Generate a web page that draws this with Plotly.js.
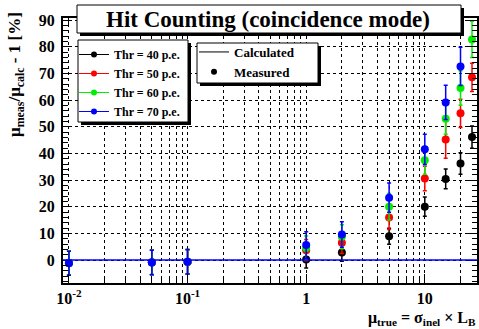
<!DOCTYPE html>
<html><head><meta charset="utf-8">
<script src="https://cdn.plot.ly/plotly-3.0.1.min.js"></script>
<style>html,body{margin:0;padding:0;background:#fff}#c{width:479px;height:329px}</style>
</head><body><div id="c"></div>
<script>
const muTrue = [0.01, 0.05, 0.1, 1, 2, 5, 10, 15, 20, 25];
const thr40 = [-1.0, -0.8, -0.6, 0.2, 2.8, 8.9, 20.0, 30.4, 36.2, 46.1];
const err40 = [4.5, 4.6, 4.6, 3.2, 3.2, 3.0, 3.6, 3.7, 4.0, 4.2];
const thr50 = [-1.1, -0.9, -0.7, 3.7, 6.5, 16.0, 30.6, 45.2, 55.0, 68.5];
const err50 = [4.5, 4.6, 4.6, 4.0, 4.0, 4.5, 4.6, 7.0, 5.3, 5.3];
const thr60 = [-1.1, -0.9, -0.6, 4.5, 8.7, 20.0, 37.4, 53.0, 64.5, 82.7];
const err60 = [4.5, 4.6, 4.6, 4.5, 4.5, 5.0, 5.2, 5.8, 6.5, 6.8];
const thr70 = [-1.2, -0.9, -0.6, 5.6, 9.6, 23.4, 41.5, 59.1, 72.6, null];
const err70 = [4.5, 4.6, 4.6, 5.0, 4.8, 5.5, 5.7, 6.4, 7.2, null];
const seriesNames = ['Thr = 40 p.e.', 'Thr = 50 p.e.', 'Thr = 60 p.e.', 'Thr = 70 p.e.'];
const seriesColors = ['#000000', '#ff0000', '#00ee00', '#0000ff'];
const xTickVals = [0.01, 0.1, 1, 10];
const xTickText = ['<b>10<sup>-2</sup></b>', '<b>10<sup>-1</sup></b>', '<b>1</b>', '<b>10</b>'];
const xMinorVals = [0.02,0.03,0.04,0.05,0.06,0.07,0.08,0.09,0.2,0.3,0.4,0.5,0.6,0.7,0.8,0.9,2,3,4,5,6,7,8,9,20];
const calcLevel = 0;

const F = 'Liberation Serif';
const ys = [thr40, thr50, thr60, thr70];
const es = [err40, err50, err60, err70];
const traces = [];
ys.forEach((y, i) => traces.push({
  type: 'scatter', mode: 'markers', x: muTrue, y: y, name: seriesNames[i], showlegend: false,
  marker: {color: seriesColors[i], size: 8},
  error_y: {type: 'data', array: es[i], color: seriesColors[i], thickness: 1.5, width: 2}
}));
seriesNames.forEach((n, i) => traces.push({
  type: 'scatter', mode: 'lines+markers', x: [null], y: [null], name: '<b>' + n + '</b>',
  line: {color: seriesColors[i], width: 1}, marker: {color: seriesColors[i], size: 6},
  legend: 'legend', showlegend: true
}));
traces.push({type: 'scatter', mode: 'lines', x: [null], y: [null], name: '<b>Calculated</b>',
  line: {color: '#000', width: 1}, legend: 'legend2', showlegend: true});
traces.push({type: 'scatter', mode: 'markers', x: [null], y: [null], name: '<b>Measured</b>',
  marker: {color: '#000', size: 6}, legend: 'legend2', showlegend: true});

// plot area px: x 63..477, y 18..283
const px = v => (v - 63) / 414;
const py = v => (283 - v) / 265;
function box(x0, y0, x1, y1) {
  return [
    {type: 'rect', xref: 'paper', yref: 'paper', layer: 'above', x0: px(x0 + 3), x1: px(x1 + 3), y0: py(y1 + 3), y1: py(y0 + 3), fillcolor: '#000', line: {width: 0}},
    {type: 'rect', xref: 'paper', yref: 'paper', layer: 'above', x0: px(x0), x1: px(x1), y0: py(y1), y1: py(y0), fillcolor: '#fff', line: {color: '#000', width: 1}}
  ];
}
const shapes = [
  {type: 'line', xref: 'paper', yref: 'y', x0: 0, x1: 1, y0: calcLevel, y1: calcLevel, line: {color: '#0000ff', width: 1.5}, layer: 'above'}
].concat(box(77, 5, 461, 33), box(78, 40, 188, 122), box(197, 43, 318, 83));

const layout = {
  width: 479, height: 329,
  margin: {l: 63, r: 2, t: 18, b: 46},
  paper_bgcolor: '#fff', plot_bgcolor: '#fff',
  showlegend: true,
  font: {family: F, color: '#000'},
  xaxis: {type: 'log', range: [-2.05, 1.44], tickmode: 'array', tickvals: xTickVals, ticktext: xTickText,
    ticks: 'inside', ticklen: 9, tickwidth: 1, tickcolor: '#000',
    showline: true, linewidth: 2, linecolor: '#000', mirror: 'allticks',
    showgrid: true, gridcolor: '#000', griddash: 'dot', gridwidth: 1,
    tickfont: {family: F, size: 16, color: '#000'},
    minor: {tickmode: 'array', tickvals: xMinorVals, ticks: 'inside', ticklen: 5, tickcolor: '#000',
      showgrid: true, gridcolor: '#000', griddash: 'dot', gridwidth: 1},
    zeroline: false},
  yaxis: {range: [-8.6, 90.75], tickmode: 'linear', tick0: 0, dtick: 10,
    ticks: 'inside', ticklen: 9, tickwidth: 1, tickcolor: '#000', ticklabelstandoff: 3,
    showline: true, linewidth: 2, linecolor: '#000', mirror: 'allticks',
    showgrid: true, gridcolor: '#000', griddash: 'dot', gridwidth: 1,
    tickfont: {family: F, size: 16, color: '#000', weight: 'bold'},
    minor: {dtick: 2, ticks: 'inside', ticklen: 5, tickcolor: '#000', showgrid: false},
    zeroline: false},
  legend: {x: px(74), y: py(40), xanchor: 'left', yanchor: 'top', bgcolor: 'rgba(0,0,0,0)', borderwidth: 0,
    font: {family: F, size: 12, color: '#000'}, traceorder: 'normal', itemwidth: 30},
  legend2: {x: px(194), y: py(37), xanchor: 'left', yanchor: 'top', bgcolor: 'rgba(0,0,0,0)', borderwidth: 0,
    font: {family: F, size: 13, color: '#000'}},
  shapes: shapes,
  annotations: [
    {xref: 'paper', yref: 'paper', x: px(268), y: py(19), xanchor: 'center', yanchor: 'middle', showarrow: false,
      text: 'Hit Counting (coincidence mode)', font: {family: F, size: 23, color: '#000', weight: 'bold'}},
    {xref: 'paper', yref: 'paper', x: px(16), y: py(75), xanchor: 'center', yanchor: 'middle', showarrow: false, textangle: -90,
      text: '<b>μ<sub>meas</sub>/μ<sub>calc</sub> - 1 [%]</b>', font: {family: F, size: 17, color: '#000'}},
    {xref: 'paper', yref: 'paper', x: px(478), y: py(318), xanchor: 'right', yanchor: 'middle', showarrow: false,
      text: '<b>μ<sub>true</sub> = σ<sub>inel</sub> × L<sub>B</sub></b>', font: {family: F, size: 16, color: '#000'}}
  ]
};
Plotly.newPlot('c', traces, layout, {staticPlot: true, displayModeBar: false});
</script></body></html>
